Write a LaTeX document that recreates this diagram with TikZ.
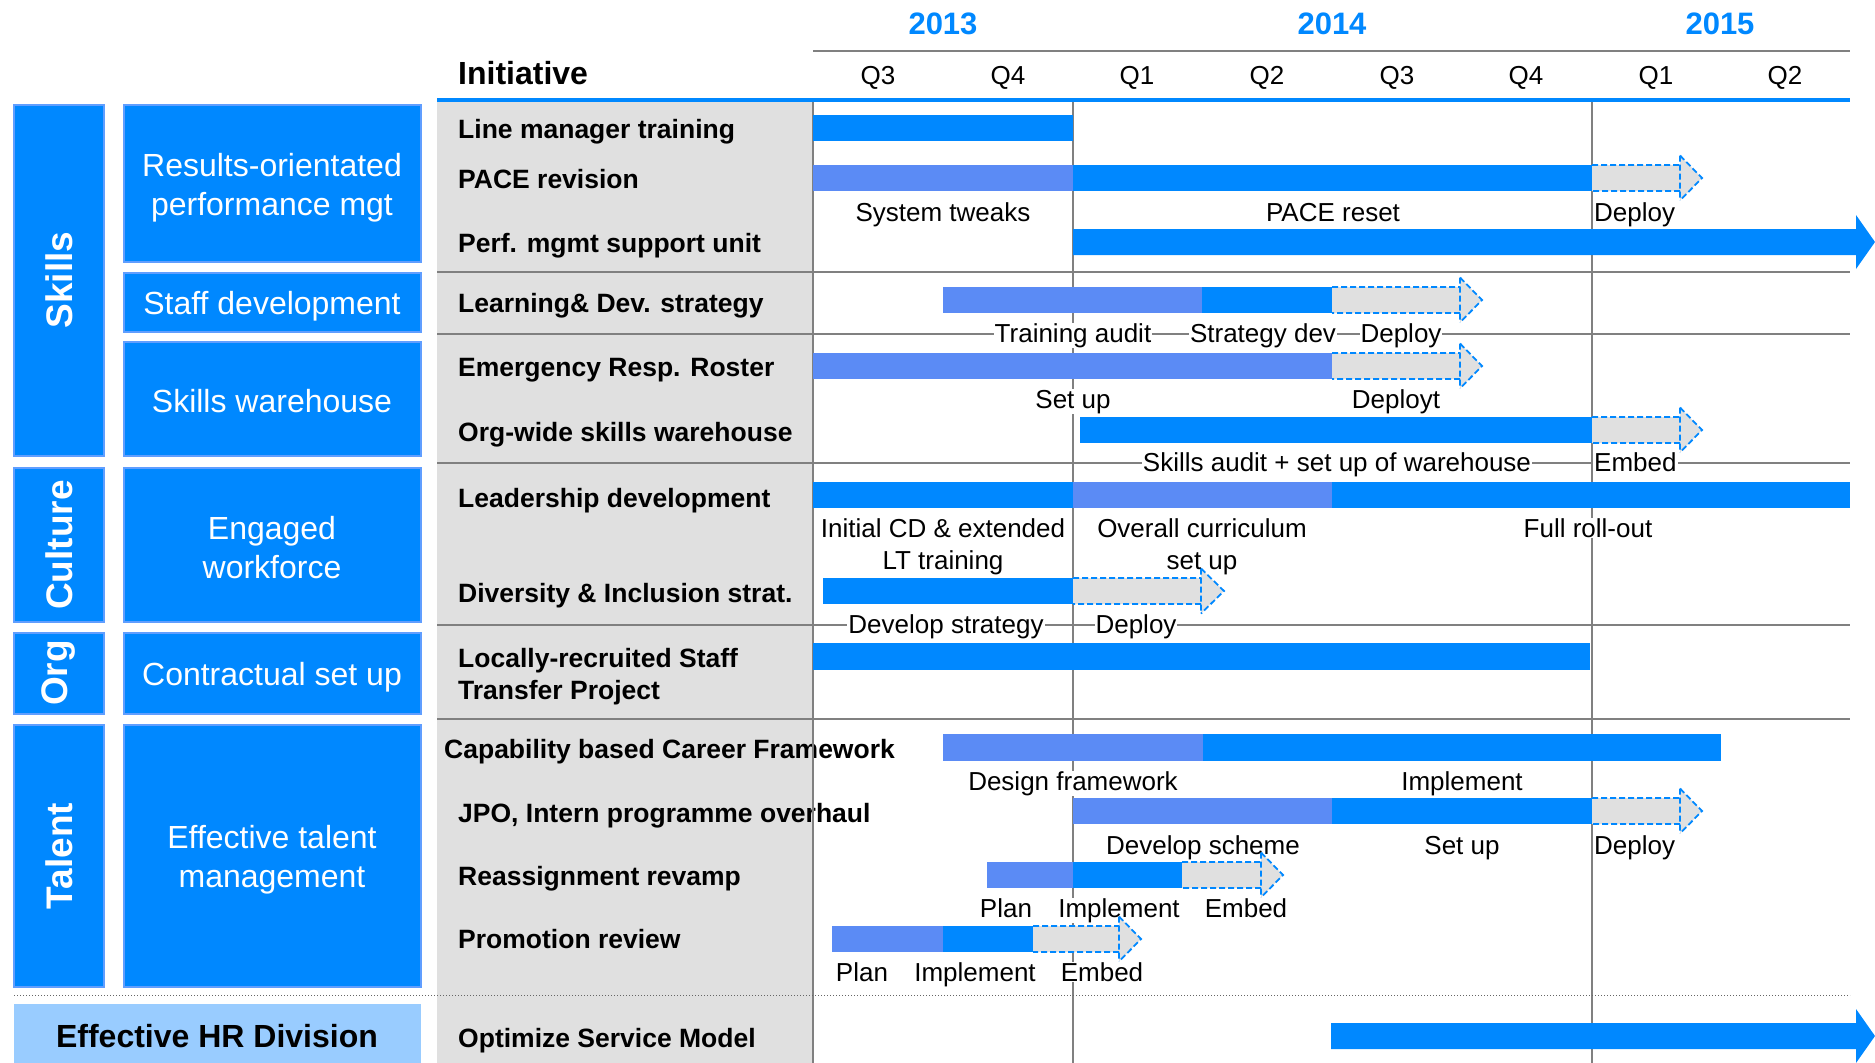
\documentclass[tikz,border=0pt]{standalone}
\usepackage{fontspec}
\setmainfont{Liberation Sans}

\definecolor{cdark}{RGB}{0,136,255}
\definecolor{clight}{RGB}{91,139,245}
\definecolor{cgray}{RGB}{224,224,224}
\definecolor{cborder}{RGB}{96,158,255}
\definecolor{chr}{RGB}{153,204,255}
\definecolor{cgrid}{RGB}{128,128,128}

% dashed "to be continued" arrow: start x, head base x, tip x, shaft top y
\newcommand\dasharr[4]{%
  \fill[cgray] (#1,#4) -- (#2,#4) -- (#2,#4-9.5) -- (#3,#4+13) -- (#2,#4+35.5)
    -- (#2,#4+26) -- (#1,#4+26) -- cycle;
  \draw[dashout] (#1,#4) -- (#2,#4) (#2,#4-9.5) -- (#2,#4+35.5)
    (#2,#4-9.5) -- (#3,#4+13) -- (#2,#4+35.5) (#2,#4+26) -- (#1,#4+26);}

% solid arrow running off the right edge: start x, shaft top y
\newcommand\longarr[2]{%
  \fill[cdark] (#1,#2) -- (1856,#2) -- (1856,#2-14) -- (1875,#2+13)
    -- (1856,#2+40) -- (1856,#2+26) -- (#1,#2+26) -- cycle;}

\begin{document}
\begin{tikzpicture}[x=1pt,y=-1pt,
  catbox/.style={fill=cdark, draw=cborder, line width=2},
  catlabel/.style={rotate=90, text=white, font=\fontsize{37}{40}\selectfont\bfseries},
  boxtext/.style={text=white, align=center, font=\fontsize{32}{39}\selectfont},
  initlabel/.style={anchor=base west, inner sep=0, font=\fontsize{26.5}{32}\selectfont\bfseries},
  barlabel/.style={anchor=base, fill=white, inner xsep=1pt, inner ysep=0.5pt, font=\fontsize{26}{30}\selectfont},
  qlabel/.style={anchor=base, font=\fontsize{26}{30}\selectfont},
  yearlabel/.style={anchor=base, text=cdark, font=\fontsize{31}{36}\selectfont\bfseries},
  gridline/.style={draw=cgrid, line width=1.5},
  dashout/.style={draw=cdark, line width=1.8, dash pattern=on 6pt off 3pt}]
\useasboundingbox (0,0) rectangle (1875,1063);

% ---------- left-hand categories ----------
\path[catbox] (14,105) rectangle (104,456);
\path[catbox] (14,468) rectangle (104,622);
\path[catbox] (14,633) rectangle (104,714);
\path[catbox] (14,725) rectangle (104,987);
\node[catlabel] (skills) at (59,280) {Skills};
\node[catlabel] (culture) at (59,545) {Culture};
\node[catlabel] (org) at (59,673) {Org};
\node[catlabel] (talent) at (59,856) {Talent};

\path[catbox] (124,105) rectangle (421,262);
\path[catbox] (124,273) rectangle (421,332);
\path[catbox] (124,342) rectangle (421,456);
\path[catbox] (124,468) rectangle (421,622);
\path[catbox] (124,633) rectangle (421,714);
\path[catbox] (124,725) rectangle (421,987);
\node[boxtext] (results) at (272,188) {Results-orientated\\performance mgt};
\node[boxtext] (staff) at (272,306) {Staff development};
\node[boxtext] (warehouse) at (272,401) {Skills warehouse};
\node[boxtext] (engaged) at (272,548) {Engaged\\workforce};
\node[boxtext] (contract) at (272,677) {Contractual set up};
\node[boxtext] (effective) at (272,860) {Effective talent\\management};

\fill[chr] (14,1004) rectangle (421,1063);
\node[font=\fontsize{32}{38}\selectfont\bfseries] (hr) at (217,1036) {Effective HR Division};

% ---------- header ----------
\fill[cgray] (437,101) rectangle (813,1063);
\draw[draw=cgrid, line width=1.8] (813,51) -- (1850,51);
\draw[cdark, line width=3.5] (437,100) -- (1850,100);
\node[anchor=base west, inner sep=0, font=\fontsize{32}{38}\selectfont\bfseries] (init) at (458,84) {Initiative};
\node[yearlabel] (y2013) at (943,34) {2013};
\node[yearlabel] (y2014) at (1332,34) {2014};
\node[yearlabel] (y2015) at (1720,34) {2015};
\node[qlabel] (q1) at (878,84) {Q3};
\node[qlabel] (q2) at (1008,84) {Q4};
\node[qlabel] (q3) at (1137,84) {Q1};
\node[qlabel] (q4) at (1267,84) {Q2};
\node[qlabel] (q5) at (1397,84) {Q3};
\node[qlabel] (q6) at (1526,84) {Q4};
\node[qlabel] (q7) at (1656,84) {Q1};
\node[qlabel] (q8) at (1785,84) {Q2};

% ---------- initiatives ----------
\node[initlabel] (i1) at (458,138) {Line manager training};
\node[initlabel] (i2) at (458,188) {PACE revision};
\node[initlabel] (i3) at (458,252) {Perf. mgmt support unit};
\node[initlabel] (i4) at (458,312) {Learning\& Dev. strategy};
\node[initlabel] (i5) at (458,376) {Emergency Resp. Roster};
\node[initlabel] (i6) at (458,441) {Org-wide skills warehouse};
\node[initlabel] (i7) at (458,507) {Leadership development};
\node[initlabel] (i8) at (458,602) {Diversity \& Inclusion strat.};
\node[initlabel] (i9) at (458,667) {Locally-recruited Staff};
\node[initlabel] (i9b) at (458,699) {Transfer Project};
\node[initlabel] (i10) at (444,758) {Capability based Career Framework};
\node[initlabel] (i11) at (458,822) {JPO, Intern programme overhaul};
\node[initlabel] (i12) at (458,885) {Reassignment revamp};
\node[initlabel] (i13) at (458,948) {Promotion review};
\node[initlabel] (i14) at (458,1047) {Optimize Service Model};

% ---------- grid ----------
\foreach \yy in {272,334,463,625,719}
  \draw[gridline] (437,\yy) -- (1850,\yy);
\foreach \xx in {813,1073,1592}
  \draw[gridline] (\xx,102) -- (\xx,1063);
\draw[draw=cgrid!80!black, line width=1, dotted] (14,995) -- (1850,995);

% ---------- phase labels ----------
\node[barlabel] (l2a) at (943,221) {System tweaks};
\node[barlabel] (l2b) at (1333,221) {PACE reset};
\node[barlabel, anchor=base west] (l2c) at (1593,221) {Deploy};
\node[barlabel] (l4a) at (1073,342) {Training audit};
\node[barlabel] (l4b) at (1263,342) {Strategy dev};
\node[barlabel] (l4c) at (1401,342) {Deploy};
\node[barlabel] (l5a) at (1073,408) {Set up};
\node[barlabel] (l5b) at (1396,408) {Deployt};
\node[barlabel] (l6a) at (1337,471) {Skills audit + set up of warehouse};
\node[barlabel, anchor=base west] (l6b) at (1593,471) {Embed};
\node[barlabel] (l7a) at (943,537) {Initial CD \& extended};
\node[barlabel] (l7b) at (943,569) {LT training};
\node[barlabel] (l7c) at (1202,537) {Overall curriculum};
\node[barlabel] (l7d) at (1202,569) {set up};
\node[barlabel] (l7e) at (1588,537) {Full roll-out};
\node[barlabel] (l8a) at (946,633) {Develop strategy};
\node[barlabel] (l8b) at (1136,633) {Deploy};
\node[barlabel] (l10a) at (1073,790) {Design framework};
\node[barlabel] (l10b) at (1462,790) {Implement};
\node[barlabel] (l11a) at (1203,854) {Develop scheme};
\node[barlabel] (l11b) at (1462,854) {Set up};
\node[barlabel, anchor=base west] (l11c) at (1593,854) {Deploy};
\node[barlabel] (l12a) at (1006,917) {Plan};
\node[barlabel] (l12b) at (1119,917) {Implement};
\node[barlabel] (l12c) at (1246,917) {Embed};
\node[barlabel] (l13a) at (862,981) {Plan};
\node[barlabel] (l13b) at (975,981) {Implement};
\node[barlabel] (l13c) at (1102,981) {Embed};

% ---------- bars ----------
% Line manager training
\fill[cdark] (813,115) rectangle (1073,141);
% PACE revision
\fill[clight] (813,165) rectangle (1073,191);
\fill[cdark] (1073,165) rectangle (1592,191);
\dasharr{1592}{1680}{1702}{165}
% Perf. mgmt support unit
\longarr{1073}{229}
% Learning & Dev. strategy
\fill[clight] (943,287) rectangle (1202,313);
\fill[cdark] (1202,287) rectangle (1332,313);
\dasharr{1332}{1460}{1482}{287}
% Emergency Resp. Roster
\fill[clight] (813,353) rectangle (1332,379);
\dasharr{1332}{1460}{1482}{353}
% Org-wide skills warehouse
\fill[cdark] (1080,417) rectangle (1592,443);
\dasharr{1592}{1680}{1702}{417}
% Leadership development
\fill[cdark] (813,482) rectangle (1073,508);
\fill[clight] (1073,482) rectangle (1332,508);
\fill[cdark] (1332,482) rectangle (1850,508);
% Diversity & Inclusion
\fill[cdark] (823,578) rectangle (1073,604);
\dasharr{1073}{1201}{1224}{578}
% Locally-recruited staff
\fill[cdark] (813,643) rectangle (1590,670);
% Career framework
\fill[clight] (943,734) rectangle (1203,761);
\fill[cdark] (1203,734) rectangle (1721,761);
% JPO / intern
\fill[clight] (1073,798) rectangle (1332,824);
\fill[cdark] (1332,798) rectangle (1592,824);
\dasharr{1592}{1680}{1702}{798}
% Reassignment revamp
\fill[clight] (987,862) rectangle (1073,888);
\fill[cdark] (1073,862) rectangle (1182,888);
\dasharr{1182}{1261}{1283}{862}
% Promotion review
\fill[clight] (832,926) rectangle (943,952);
\fill[cdark] (943,926) rectangle (1033,952);
\dasharr{1033}{1119}{1141}{926}
% Optimize service model
\longarr{1331}{1023}
\end{tikzpicture}
\end{document}
